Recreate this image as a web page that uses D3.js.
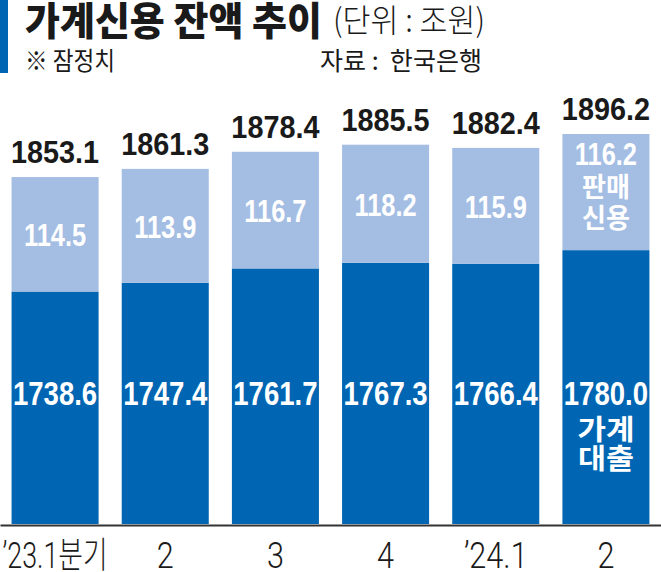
<!DOCTYPE html>
<html>
<head>
<meta charset="utf-8">
<script src="https://cdn.jsdelivr.net/npm/d3@7"></script>
<style>
  body { margin: 0; background: #fff; }
  svg { display: block; }
</style>
</head>
<body>
<script>
// data (unit: 조원)
var quarters = ["\u201923.1분기", "2", "3", "4", "\u201924.1", "2"];
var household = [1738.6, 1747.4, 1761.7, 1767.3, 1766.4, 1780.0];   // 가계대출
var sales = [114.5, 113.9, 116.7, 118.2, 115.9, 116.2];             // 판매신용
var totals = [1853.1, 1861.3, 1878.4, 1885.5, 1882.4, 1896.2];

var width = 661, height = 572;
var darkBlue = "#0066b3", lightBlue = "#a4bde3";
var numFont = "'Liberation Sans', Arial, sans-serif";
var korFont = "'Noto Sans CJK KR', 'Noto Sans', sans-serif";

var data = quarters.map(function(q, i) {
    return { key: i, label: q, dark: household[i], light: sales[i], total: totals[i] };
});

var svg = d3.select("body").append("svg")
    .attr("width", width).attr("height", height)
    .attr("xmlns", "http://www.w3.org/2000/svg");

// squeeze text horizontally (the original uses a condensed face)
function squeeze(sel, k, maxW) {
    sel.each(function() {
        var w = this.getComputedTextLength() * k;
        if (maxW && w > maxW) w = maxW;
        d3.select(this).attr("textLength", w).attr("lengthAdjust", "spacingAndGlyphs");
    });
}

// header
svg.append("rect").attr("x", 0).attr("y", 0).attr("width", 8).attr("height", 73).attr("fill", darkBlue);
svg.append("text").attr("x", 25).attr("y", 35)
    .style("font-family", korFont).style("font-weight", 900).style("font-size", "39px")
    .attr("fill", "#1a1a1a").attr("textLength", 297).attr("lengthAdjust", "spacingAndGlyphs")
    .text("가계신용 잔액 추이");
svg.append("text").attr("x", 333).attr("y", 32)
    .style("font-family", korFont).style("font-weight", 300).style("font-size", "32px")
    .attr("fill", "#1a1a1a").attr("textLength", 152).attr("lengthAdjust", "spacingAndGlyphs")
    .text("(단위 : 조원)");
svg.append("text").attr("x", 25).attr("y", 70)
    .style("font-family", korFont).style("font-weight", 400).style("font-size", "25px")
    .attr("fill", "#1a1a1a").attr("textLength", 90).attr("lengthAdjust", "spacingAndGlyphs")
    .text("※ 잠정치");
svg.append("text").attr("x", 320).attr("y", 70)
    .style("font-family", korFont).style("font-weight", 400).style("font-size", "25px")
    .attr("fill", "#1a1a1a").attr("textLength", 162).attr("lengthAdjust", "spacingAndGlyphs")
    .attr("xml:space", "preserve")
    .text("자료 :  한국은행");

// scales
var x = d3.scaleBand().domain(data.map(function(d) { return d.key; }))
    .range([0, width]).paddingInner(0.21).paddingOuter(0.105);
var y = d3.scaleLinear().domain([1506, 1896.2]).range([524, 134]);

var g = svg.append("g");

// 가계대출 (dark)
g.selectAll(".dark").data(data).enter().append("rect").attr("class", "dark")
    .attr("x", function(d) { return x(d.key); })
    .attr("width", x.bandwidth())
    .attr("y", function(d) { return y(d.dark); })
    .attr("height", function(d) { return y(1506) - y(d.dark); })
    .attr("fill", darkBlue);

// 판매신용 (light)
g.selectAll(".light").data(data).enter().append("rect").attr("class", "light")
    .attr("x", function(d) { return x(d.key); })
    .attr("width", x.bandwidth())
    .attr("y", function(d) { return y(d.dark + d.light); })
    .attr("height", function(d) { return y(d.dark) - y(d.dark + d.light); })
    .attr("fill", lightBlue);

var cx = function(d) { return x(d.key) + x.bandwidth() / 2; };
var last = data.length - 1;

// totals above bars
g.selectAll(".tot").data(data).enter().append("text").attr("class", "tot")
    .attr("x", cx).attr("y", function(d) { return y(d.total) - 14; })
    .attr("text-anchor", "middle")
    .style("font-family", numFont).style("font-weight", 700).style("font-size", "32px")
    .attr("fill", "#1a1a1a")
    .text(function(d) { return d.total.toFixed(1); })
    .call(squeeze, 0.9);

// light values
g.selectAll(".lv").data(data).enter().append("text").attr("class", "lv")
    .attr("x", cx)
    .attr("y", function(d, i) {
        return i === last ? 165 : (y(d.dark) + y(d.dark + d.light)) / 2 + 12;
    })
    .attr("text-anchor", "middle")
    .style("font-family", numFont).style("font-weight", 700).style("font-size", "31px")
    .attr("fill", "#fff")
    .text(function(d) { return d.light.toFixed(1); })
    .call(squeeze, 0.82);

// dark values
g.selectAll(".dv").data(data).enter().append("text").attr("class", "dv")
    .attr("x", cx).attr("y", 405)
    .attr("text-anchor", "middle")
    .style("font-family", numFont).style("font-weight", 700).style("font-size", "34px")
    .attr("fill", "#fff")
    .text(function(d) { return d.dark.toFixed(1); })
    .call(squeeze, 0.81);

// series names on the last bar
var names = [
    { text: "판매", y: 197, size: 27, w: 48 },
    { text: "신용", y: 228, size: 27, w: 48 },
    { text: "가계", y: 440, size: 28, w: 57 },
    { text: "대출", y: 469, size: 28, w: 56 }
];
g.selectAll(".nm").data(names).enter().append("text").attr("class", "nm")
    .attr("x", cx(data[last])).attr("y", function(d) { return d.y; })
    .attr("text-anchor", "middle")
    .style("font-family", korFont).style("font-weight", 700)
    .style("font-size", function(d) { return d.size + "px"; })
    .attr("textLength", function(d) { return d.w; }).attr("lengthAdjust", "spacingAndGlyphs")
    .attr("fill", "#fff")
    .text(function(d) { return d.text; });

// x axis
var axis = svg.append("g").attr("transform", "translate(0,525)")
    .call(d3.axisBottom(x).tickSize(0).tickSizeOuter(0).tickPadding(17)
        .tickFormat(function(k) { return quarters[k]; }));
axis.select(".domain").attr("stroke", "#333").attr("stroke-width", 2);
axis.selectAll("text")
    .style("font-family", "Roboto, " + korFont).style("font-weight", 300).style("font-size", "36px")
    .attr("fill", "#1a1a1a")
    .call(squeeze, 0.85, 105);
</script>
</body>
</html>
